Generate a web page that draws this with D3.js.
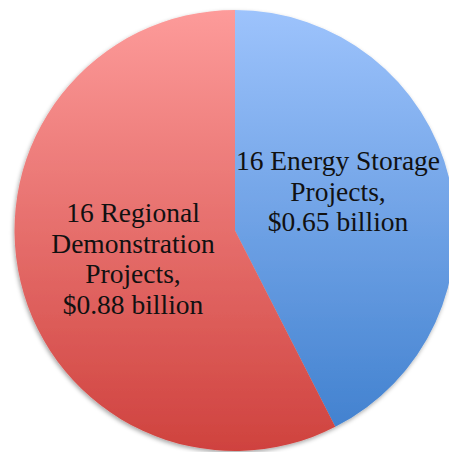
<!DOCTYPE html>
<html>
<head>
<meta charset="utf-8">
<script src="https://cdn.jsdelivr.net/npm/d3@7"></script>
<style>
  body { margin: 0; background: #fff; }
  svg { display: block; }
</style>
</head>
<body>
<div id="chart"></div>
<script>
// Chart data
const categories = ["Energy Storage", "Regional Demonstration"];
const values = [0.65, 0.88];
const labelLines = [
    ["16 Energy Storage", "Projects,", "$0.65 billion"],
    ["16 Regional", "Demonstration", "Projects,", "$0.88 billion"]
];
const topColors = ["#9dc3fc", "#fd9b9a"];
const bottomColors = ["#3d7ecd", "#cf423e"];

function drawPie(container) {
    const width = 449;
    const height = 452;
    const cx = 235, cy = 230.5, radius = 220.5;

    const svg = d3.select(container)
        .append('svg')
        .attr('width', width)
        .attr('height', height);

    const defs = svg.append('defs');

    // soft shadow under the pie
    const filter = defs.append('filter')
        .attr('id', 'shadow')
        .attr('x', '-10%').attr('y', '-10%')
        .attr('width', '120%').attr('height', '120%');
    filter.append('feDropShadow')
        .attr('dx', -1).attr('dy', 2)
        .attr('stdDeviation', 2)
        .attr('flood-color', '#000')
        .attr('flood-opacity', 0.35);

    // vertical gradients, one per slice (in the slice's local coordinates)
    categories.forEach((c, i) => {
        const grad = defs.append('linearGradient')
            .attr('id', 'grad' + i)
            .attr('gradientUnits', 'userSpaceOnUse')
            .attr('x1', 0).attr('x2', 0)
            .attr('y1', -radius).attr('y2', radius);
        grad.append('stop').attr('offset', '0%').attr('stop-color', topColors[i]);
        grad.append('stop').attr('offset', '100%').attr('stop-color', bottomColors[i]);
    });

    const pie = d3.pie().sort(null).value(d => d);
    const arc = d3.arc().innerRadius(0).outerRadius(radius);
    const arcs = pie(values);

    svg.append('g')
        .attr('transform', `translate(${cx},${cy})`)
        .attr('filter', 'url(#shadow)')
        .selectAll('path')
        .data(arcs)
        .enter()
        .append('path')
        .attr('d', arc)
        .attr('fill', (d, i) => `url(#grad${i})`);

    // labels
    const labelPos = [[338, 170], [133, 222]];
    const lineHeight = 30.5;
    arcs.forEach((d, i) => {
        const t = svg.append('text')
            .attr('text-anchor', 'middle')
            .attr('font-family', '"Liberation Serif", serif')
            .attr('font-size', 27.5)
            .attr('fill', '#111');
        labelLines[i].forEach((line, j) => {
            t.append('tspan')
                .attr('x', labelPos[i][0])
                .attr('y', labelPos[i][1] + j * lineHeight)
                .text(line);
        });
    });
}

drawPie('#chart');
</script>
</body>
</html>
